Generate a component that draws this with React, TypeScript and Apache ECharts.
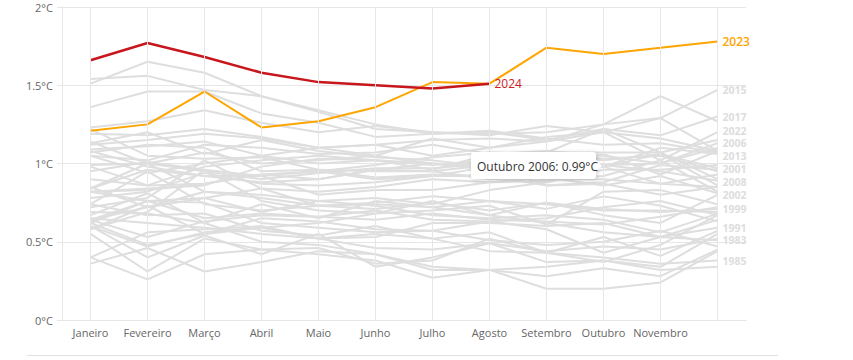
import React, { useEffect, useRef } from "react";
import * as echarts from "echarts";

const months = ["Janeiro", "Fevereiro", "Março", "Abril", "Maio", "Junho", "Julho", "Agosto", "Setembro", "Outubro", "Novembro", "Dezembro"];
const yTicks = [0, 0.5, 1, 1.5, 2];

const v2024 = [1.66, 1.77, 1.68, 1.58, 1.52, 1.5, 1.48, 1.51];
const v2023 = [1.21, 1.25, 1.46, 1.23, 1.27, 1.36, 1.52, 1.51, 1.74, 1.7, 1.74, 1.78];

const y1979 = [0.4, 0.26, 0.42, 0.45, 0.42, 0.38, 0.27, 0.32, 0.2, 0.2, 0.24, 0.44];
const y1980 = [0.62, 0.48, 0.55, 0.65, 0.63, 0.58, 0.57, 0.51, 0.48, 0.5, 0.57, 0.47];
const y1981 = [0.74, 0.67, 0.68, 0.57, 0.54, 0.6, 0.52, 0.56, 0.43, 0.37, 0.48, 0.67];
const y1982 = [0.36, 0.46, 0.31, 0.37, 0.44, 0.42, 0.32, 0.32, 0.34, 0.38, 0.34, 0.55];
const y1983 = [0.82, 0.76, 0.75, 0.62, 0.59, 0.56, 0.57, 0.63, 0.58, 0.43, 0.53, 0.51];
const y1984 = [0.6, 0.4, 0.54, 0.42, 0.55, 0.34, 0.4, 0.49, 0.37, 0.38, 0.32, 0.34];
const y1985 = [0.55, 0.31, 0.52, 0.45, 0.46, 0.36, 0.38, 0.52, 0.43, 0.4, 0.36, 0.38];
const y1986 = [0.6, 0.47, 0.56, 0.59, 0.52, 0.46, 0.45, 0.49, 0.44, 0.47, 0.45, 0.52];
const y1987 = [0.58, 0.73, 0.55, 0.59, 0.62, 0.68, 0.76, 0.67, 0.75, 0.67, 0.62, 0.8];
const y1988 = [0.85, 0.72, 0.82, 0.8, 0.76, 0.73, 0.67, 0.65, 0.67, 0.64, 0.56, 0.68];
const y1989 = [0.4, 0.56, 0.58, 0.6, 0.52, 0.53, 0.62, 0.62, 0.6, 0.62, 0.53, 0.64];
const y1990 = [0.58, 0.69, 0.96, 0.76, 0.7, 0.68, 0.7, 0.73, 0.61, 0.82, 0.83, 0.74];
const y1991 = [0.67, 0.81, 0.62, 0.74, 0.65, 0.76, 0.72, 0.67, 0.62, 0.56, 0.53, 0.59];
const y1992 = [0.69, 0.68, 0.62, 0.5, 0.48, 0.42, 0.34, 0.32, 0.28, 0.33, 0.28, 0.45];
const y1993 = [0.65, 0.62, 0.59, 0.55, 0.52, 0.55, 0.52, 0.44, 0.43, 0.53, 0.41, 0.57];
const y1994 = [0.64, 0.53, 0.63, 0.67, 0.66, 0.7, 0.64, 0.63, 0.65, 0.72, 0.76, 0.67];
const y1995 = [0.84, 1.0, 0.82, 0.78, 0.73, 0.75, 0.79, 0.76, 0.71, 0.79, 0.73, 0.63];
const y1996 = [0.62, 0.76, 0.65, 0.68, 0.66, 0.64, 0.68, 0.64, 0.63, 0.61, 0.66, 0.72];
const y1997 = [0.64, 0.72, 0.78, 0.69, 0.76, 0.78, 0.74, 0.83, 0.88, 0.96, 0.96, 0.99];
const y1998 = [1.13, 1.2, 1.06, 1.15, 1.08, 1.04, 1.02, 0.98, 0.86, 0.87, 0.8, 0.85];
const y1999 = [0.74, 0.95, 0.74, 0.7, 0.73, 0.71, 0.75, 0.7, 0.75, 0.71, 0.69, 0.71];
const y2000 = [0.64, 0.76, 0.78, 0.84, 0.73, 0.74, 0.72, 0.76, 0.74, 0.7, 0.7, 0.69];
const y2001 = [0.78, 0.82, 0.94, 0.87, 0.86, 0.88, 0.92, 0.92, 0.86, 0.88, 0.99, 0.96];
const y2002 = [1.07, 1.12, 1.1, 0.95, 0.96, 0.95, 0.95, 0.9, 0.91, 0.86, 0.92, 0.81];
const y2003 = [1.08, 0.98, 0.92, 0.92, 0.95, 0.9, 0.92, 0.98, 0.97, 1.06, 0.93, 1.08];
const y2004 = [0.95, 1.01, 0.96, 0.92, 0.8, 0.83, 0.83, 0.88, 0.91, 0.98, 1.06, 0.86];
const y2005 = [1.05, 0.94, 1.0, 1.05, 1.0, 1.02, 1.0, 0.99, 1.07, 1.03, 1.05, 0.95];
const y2006 = [0.84, 0.96, 0.92, 0.88, 0.9, 0.96, 0.95, 0.99, 0.98, 0.99, 1.0, 1.13];
const y2007 = [1.22, 1.05, 1.03, 1.04, 0.96, 0.91, 0.93, 0.92, 0.9, 0.9, 0.87, 0.85];
const y2008 = [0.72, 0.78, 1.02, 0.84, 0.82, 0.85, 0.9, 0.88, 0.89, 0.99, 0.95, 0.89];
const y2009 = [0.9, 0.86, 0.87, 0.93, 0.95, 0.99, 1.04, 1.07, 1.06, 1.02, 1.06, 0.97];
const y2010 = [1.12, 1.15, 1.19, 1.16, 1.1, 1.05, 1.0, 0.98, 0.9, 0.92, 1.02, 0.82];
const y2011 = [0.82, 0.83, 0.87, 0.93, 0.9, 0.96, 1.0, 0.96, 0.92, 0.98, 0.87, 0.93];
const y2012 = [0.82, 0.84, 0.86, 0.98, 1.03, 1.02, 0.99, 1.02, 1.07, 1.07, 1.07, 0.9];
const y2013 = [0.99, 1.0, 0.95, 0.9, 0.94, 0.97, 0.97, 1.0, 1.04, 0.98, 1.1, 1.06];
const y2014 = [0.98, 0.86, 0.98, 1.02, 1.05, 1.02, 0.96, 1.06, 1.08, 1.05, 1.0, 1.1];
const y2015 = [1.09, 1.11, 1.14, 1.05, 1.1, 1.12, 1.05, 1.1, 1.14, 1.25, 1.29, 1.47];
const y2016 = [1.51, 1.65, 1.58, 1.43, 1.34, 1.25, 1.19, 1.21, 1.16, 1.12, 1.13, 1.07];
const y2017 = [1.36, 1.46, 1.46, 1.32, 1.26, 1.17, 1.19, 1.2, 1.15, 1.22, 1.18, 1.3];
const y2018 = [1.05, 1.02, 1.12, 1.1, 1.06, 1.07, 1.12, 1.06, 1.07, 1.22, 1.07, 1.15];
const y2019 = [1.23, 1.27, 1.34, 1.26, 1.2, 1.24, 1.2, 1.19, 1.2, 1.25, 1.43, 1.27];
const y2020 = [1.54, 1.56, 1.47, 1.43, 1.33, 1.22, 1.2, 1.18, 1.24, 1.2, 1.29, 1.08];
const y2021 = [1.14, 1.0, 1.07, 1.0, 1.02, 1.05, 1.16, 1.1, 1.17, 1.2, 1.16, 1.08];
const y2022 = [1.19, 1.18, 1.22, 1.17, 1.1, 1.12, 1.15, 1.16, 1.14, 1.2, 1.02, 1.2];

const greyYears: [number, number[]][] = [
  [1979, y1979], [1980, y1980], [1981, y1981], [1982, y1982], [1983, y1983], [1984, y1984],
  [1985, y1985], [1986, y1986], [1987, y1987], [1988, y1988], [1989, y1989], [1990, y1990],
  [1991, y1991], [1992, y1992], [1993, y1993], [1994, y1994], [1995, y1995], [1996, y1996],
  [1997, y1997], [1998, y1998], [1999, y1999], [2000, y2000], [2001, y2001], [2002, y2002],
  [2003, y2003], [2004, y2004], [2005, y2005], [2006, y2006], [2007, y2007], [2008, y2008],
  [2009, y2009], [2010, y2010], [2011, y2011], [2012, y2012], [2013, y2013], [2014, y2014],
  [2015, y2015], [2016, y2016], [2017, y2017], [2018, y2018], [2019, y2019], [2020, y2020],
  [2021, y2021], [2022, y2022],
];
const labelledYears = [2015, 2017, 2022, 2006, 2013, 2001, 2008, 2002, 1999, 1991, 1983, 1985];
const labelNudge: Record<number, number> = { 2022: -1.5, 2013: 1.5, 2001: -0.5, 2008: 1.5, 2002: 1.5 };

const FONT = "'Open Sans', sans-serif";

export default function App() {
  const ref = useRef<HTMLDivElement>(null);
  useEffect(() => {
    if (!ref.current) return;
    const chart = echarts.init(ref.current, undefined, { renderer: "svg" });
    const greySeries = greyYears.map(([yr, vals]) => ({
      name: String(yr),
      type: "line",
      data: vals,
      symbol: "none",
      silent: true,
      lineStyle: { color: "#dedede", width: 2 },
      endLabel: labelledYears.includes(yr)
        ? {
            show: true,
            formatter: String(yr),
            color: "#dddddd",
            fontSize: 10.5,
            fontWeight: "bold",
            fontFamily: FONT,
            distance: 5,
            lineHeight: 10,
            padding: 0,
            offset: [0, labelNudge[yr] || 0],
          }
        : { show: false },
      z: 2,
    }));
    const option: any = {
      animation: false,
      textStyle: { fontFamily: FONT },
      grid: { left: 62, right: 107, top: 7, bottom: 40, containLabel: false },
      xAxis: {
        type: "category",
        data: months,
        boundaryGap: true,
        axisLine: { show: true, lineStyle: { color: "#e6e6e6" } },
        axisTick: { show: false },
        splitLine: { show: false },
        axisLabel: {
          color: "#666",
          fontSize: 11,
          margin: 7,
          fontFamily: FONT,
          interval: (i: number) => i < 11,
        },
      },
      yAxis: {
        type: "value",
        min: yTicks[0],
        max: yTicks[yTicks.length - 1],
        interval: 0.5,
        axisLine: { show: true, lineStyle: { color: "#e6e6e6" } },
        axisTick: { show: true, length: 5, lineStyle: { color: "#e6e6e6" } },
        splitLine: { show: true, lineStyle: { color: "#e6e6e6", width: 1 } },
        axisLabel: {
          color: "#666",
          fontSize: 11,
          margin: 9,
          fontFamily: FONT,
          formatter: (v: number) => `${v}°C`,
        },
      },
      series: [
        {
          name: "grid",
          type: "line",
          data: [],
          silent: true,
          markLine: {
            silent: true,
            symbol: "none",
            label: { show: false },
            lineStyle: { color: "#e6e6e6", width: 1, type: "solid" },
            data: months.map((m) => ({ xAxis: m })),
          },
          z: 1,
        },
        ...greySeries,
        {
          name: "2023",
          type: "line",
          data: v2023,
          symbol: "none",
          lineStyle: { color: "#ffa500", width: 2 },
          endLabel: { show: true, formatter: "2023", color: "#ffa500", fontSize: 12, fontWeight: 600, fontFamily: FONT, distance: 5 },
          z: 3,
        },
        {
          name: "2024",
          type: "line",
          data: v2024,
          symbol: "none",
          lineStyle: { color: "#c8161d", width: 2.5 },
          endLabel: { show: true, formatter: "2024", color: "#d0201e", fontSize: 12, fontFamily: FONT, distance: 5 },
          z: 4,
        },
      ],
      graphic: [
        {
          type: "line",
          shape: { x1: 27, y1: 355.5, x2: 778, y2: 355.5 },
          style: { stroke: "#e0e0e0", lineWidth: 1 },
          silent: true,
        },
        {
          type: "rect",
          z: 100,
          shape: { x: 471, y: 152, width: 125, height: 27, r: 3 },
          style: { fill: "#ffffff", shadowBlur: 5, shadowColor: "rgba(0,0,0,0.18)", shadowOffsetX: 1, shadowOffsetY: 1 },
        },
        {
          type: "polygon",
          z: 101,
          shape: { points: [[595, 159], [602, 166], [595, 173]] },
          style: { fill: "#ffffff" },
        },
        {
          type: "text",
          z: 102,
          x: 477,
          y: 166,
          style: { text: "Outubro 2006: 0.99°C", fill: "#333333", fontSize: 12, fontFamily: FONT, verticalAlign: "middle" },
        },
      ],
    };
    chart.setOption(option);
    return () => chart.dispose();
  }, []);
  return <div ref={ref} style={{ position: "absolute", left: 0, top: 0, width: 853, height: 360 }} />;
}
